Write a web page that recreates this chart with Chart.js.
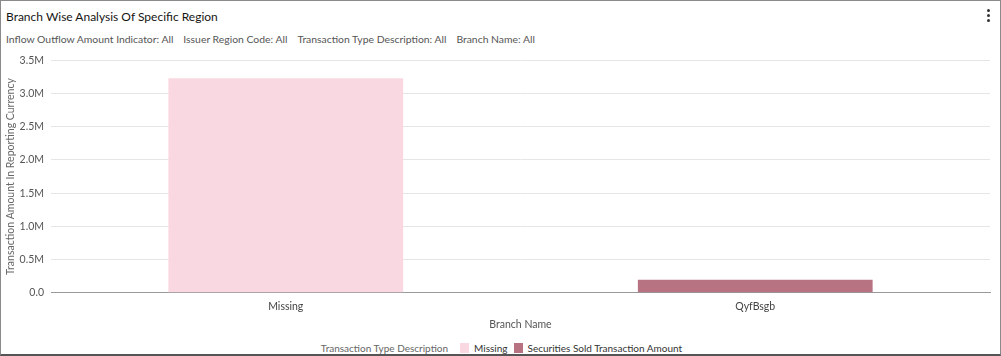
<!DOCTYPE html>
<html><head><meta charset="utf-8">
<script src="https://cdn.jsdelivr.net/npm/chart.js@4/dist/chart.umd.min.js"></script>
<style>
html,body{margin:0;padding:0;background:#fff;}
#wrap{position:relative;width:999px;height:353px;border:1px solid #8a8a8a;border-bottom:2px solid #555;box-sizing:content-box;overflow:hidden;font-family:Lato,"Open Sans",sans-serif;}
#title{position:absolute;left:5px;top:8px;font-size:12px;color:#161513;}
#filters{position:absolute;left:5px;top:32px;font-size:10.4px;color:#555;}
#filters span{margin-right:10px;}
#menu{position:absolute;left:986px;top:8px;width:3px;}
#menu i{display:block;width:3px;height:3px;background:#333;border-radius:50%;margin-bottom:2px;}
#cv{position:absolute;left:0;top:46px;}
#legend{position:absolute;left:0;width:999px;top:341px;text-align:center;font-size:10px;color:#555;white-space:nowrap;padding-left:8px;box-sizing:border-box;}
#legend .t{margin-right:12px;color:#666;}
#legend .it{display:inline-block;margin-right:6px;color:#333;}
#legend .b{display:inline-block;width:9px;height:10px;vertical-align:-1px;margin-right:5px;}
</style></head>
<body>
<div id="wrap">
<div id="title">Branch Wise Analysis Of Specific Region</div>
<div id="filters"><span>Inflow Outflow Amount Indicator: All</span><span>Issuer Region Code: All</span><span>Transaction Type Description: All</span><span>Branch Name: All</span></div>
<div id="menu"><i></i><i></i><i></i></div>
<canvas id="cv" width="999" height="288"></canvas>
<div id="legend"></div>
</div>
<script>
const categories = ["Missing", "QyfBsgb"];
const seriesNames = ["Missing", "Securities Sold Transaction Amount"];
const missingValues = [3230000, null];
const securitiesSoldValues = [null, 195000];
const seriesColors = ["#f9d8e1", "#b87382"];
const yTickMax = 3500000;
const yTickStep = 500000;
const legendTitle = "Transaction Type Description";
const xAxisTitle = "Branch Name";
const yAxisTitle = "Transaction Amount In Reporting Currency";

const font = "Lato, 'Open Sans', sans-serif";
new Chart(document.getElementById('cv'), {
  type: 'bar',
  data: {
    labels: categories,
    datasets: [
      {label: seriesNames[0], data: missingValues, backgroundColor: seriesColors[0]},
      {label: seriesNames[1], data: securitiesSoldValues, backgroundColor: seriesColors[1]}
    ]
  },
  options: {
    responsive: false,
    animation: false,
    layout: {padding: {top: 0, right: 10, left: 0, bottom: 0}},
    datasets: {bar: {barPercentage: 0.5, categoryPercentage: 1.0, skipNull: true}},
    plugins: {legend: {display: false}, tooltip: {enabled: false}},
    scales: {
      x: {
        grid: {display: false, drawTicks: false},
        border: {color: '#999'},
        ticks: {color: '#444', font: {family: font, size: 10.5}, padding: 8},
        title: {display: true, text: xAxisTitle, color: '#555', font: {family: font, size: 10.5}, padding: {top: -3, bottom: 4}}
      },
      y: {
        min: 0, max: yTickMax,
        afterFit: s => { s.width = 50; },
        grid: {color: '#e6e6e6', drawTicks: false},
        border: {display: false},
        ticks: {stepSize: yTickStep, color: '#555', font: {family: font, size: 10.5}, padding: 7,
          callback: v => v === 0 ? '0.0' : (v / 1e6).toFixed(1) + 'M'},
        title: {display: true, text: yAxisTitle, color: '#666', font: {family: font, size: 10.5}, padding: {top: 3, bottom: 0}}
      }
    }
  }
});
const lg = document.getElementById('legend');
lg.innerHTML = '<span class="t">' + legendTitle + '</span>' + seriesNames.map((n, i) =>
  '<span class="it"><span class="b" style="background:' + seriesColors[i] + '"></span>' + n + '</span>').join('');
</script>
</body></html>
